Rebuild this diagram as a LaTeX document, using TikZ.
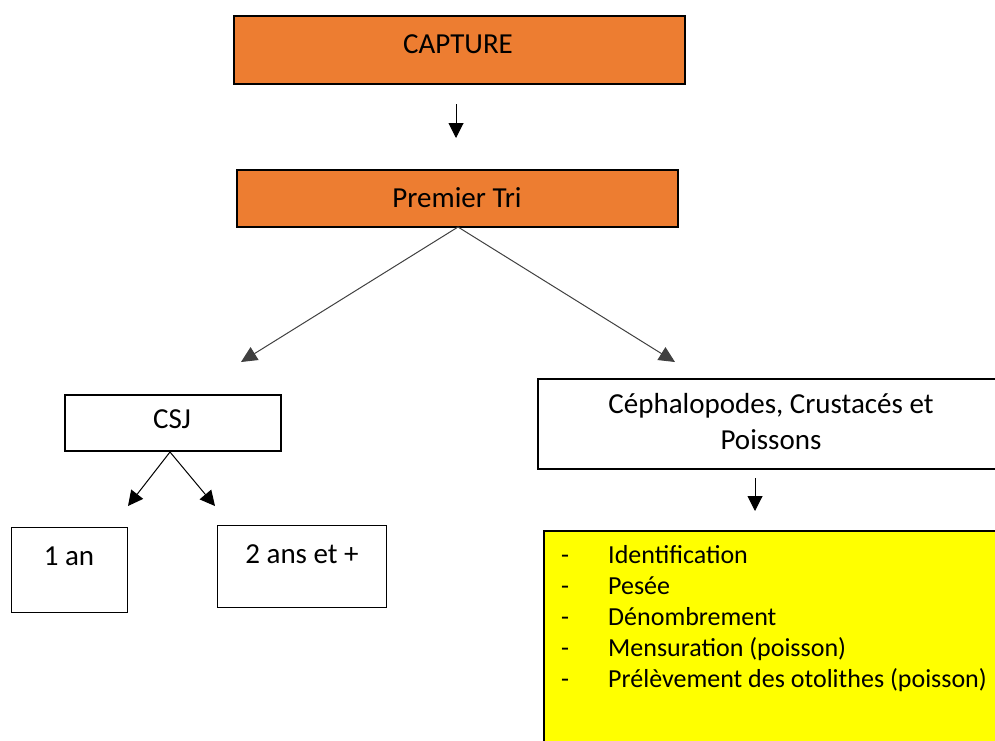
\documentclass[tikz,border=0pt]{standalone}
\usepackage{fontspec}
\setmainfont{Carlito}
\usetikzlibrary{arrows.meta,calc}
\definecolor{orangeF}{HTML}{ED7D31}
\definecolor{yellowF}{HTML}{FFFF00}
\tikzset{
  box/.style={draw=black, line width=1.6pt, rectangle, inner sep=0pt, anchor=north west},
  thinbox/.style={draw=black, line width=1pt, rectangle, inner sep=0pt, anchor=north west},
  txt/.style={font=\fontsize{29}{34}\selectfont, inner sep=0pt, anchor=base},
  ltxt/.style={font=\fontsize{26}{31}\selectfont, inner sep=0pt, anchor=base west},
  arr/.style={-{Triangle[length=15pt,width=15pt]}, line width=1pt, black},
  garr/.style={-{Triangle[length=16pt,width=15pt]}, line width=1pt, black!75},
}
\begin{document}
\begin{tikzpicture}[x=1pt,y=-1pt]
\useasboundingbox (0,0) rectangle (995,740);
\clip (0,0) rectangle (995,740);
% boxes
\node[box, fill=orangeF, minimum width=451pt, minimum height=68pt] (cap) at (233,15) {};
\node[txt] (captxt) at (458,53) {CAPTURE};
\node[box, fill=orangeF, minimum width=441pt, minimum height=57pt] (tri) at (236,169) {};
\node[txt] (tritxt) at (457,207) {Premier Tri};
\node[box, minimum width=216pt, minimum height=56pt] (csj) at (64,394) {};
\node[txt] (csjtxt) at (172,428) {CSJ};
\node[thinbox, minimum width=116pt, minimum height=85pt] (an1) at (11,527) {};
\node[txt] (an1txt) at (69,565) {1 an};
\node[thinbox, minimum width=169pt, minimum height=82pt] (an2) at (217,525) {};
\node[txt] (an2txt) at (302,563) {2 ans et +};
\node[box, minimum width=480pt, minimum height=90pt] (ceph) at (537,378) {};
\node[txt] (cephtxt1) at (771,413) {Céphalopodes, Crustacés et};
\node[txt] (cephtxt2) at (771,449) {Poissons};
\node[box, fill=yellowF, minimum width=480pt, minimum height=230pt] (list) at (543,530) {};
\foreach \t [count=\i] in {Identification, Pesée, Dénombrement, Mensuration (poisson), Prélèvement des otolithes (poisson)}{
  \node[ltxt] (d\i) at (561,{563+31*(\i-1)}) {-};
  \node[ltxt] (l\i) at (608,{563+31*(\i-1)}) {\t};
}
% connectors
\coordinate (a1s) at (456,104);
\coordinate (a1e) at (456,138);
\draw[arr] (a1s) -- (a1e);
\coordinate (split) at (458,227);
\coordinate (lt) at (241,362);
\coordinate (rt) at (675,362);
\draw[garr] (split) -- (lt);
\draw[garr] (split) -- (rt);
\coordinate (csjb) at (170,452);
\coordinate (t1) at (128,506);
\coordinate (t2) at (215,506);
\draw[arr] (csjb) -- (t1);
\draw[arr] (csjb) -- (t2);
\coordinate (a2s) at (755,478);
\coordinate (a2e) at (755,511);
\draw[arr] (a2s) -- (a2e);
\end{tikzpicture}
\end{document}
